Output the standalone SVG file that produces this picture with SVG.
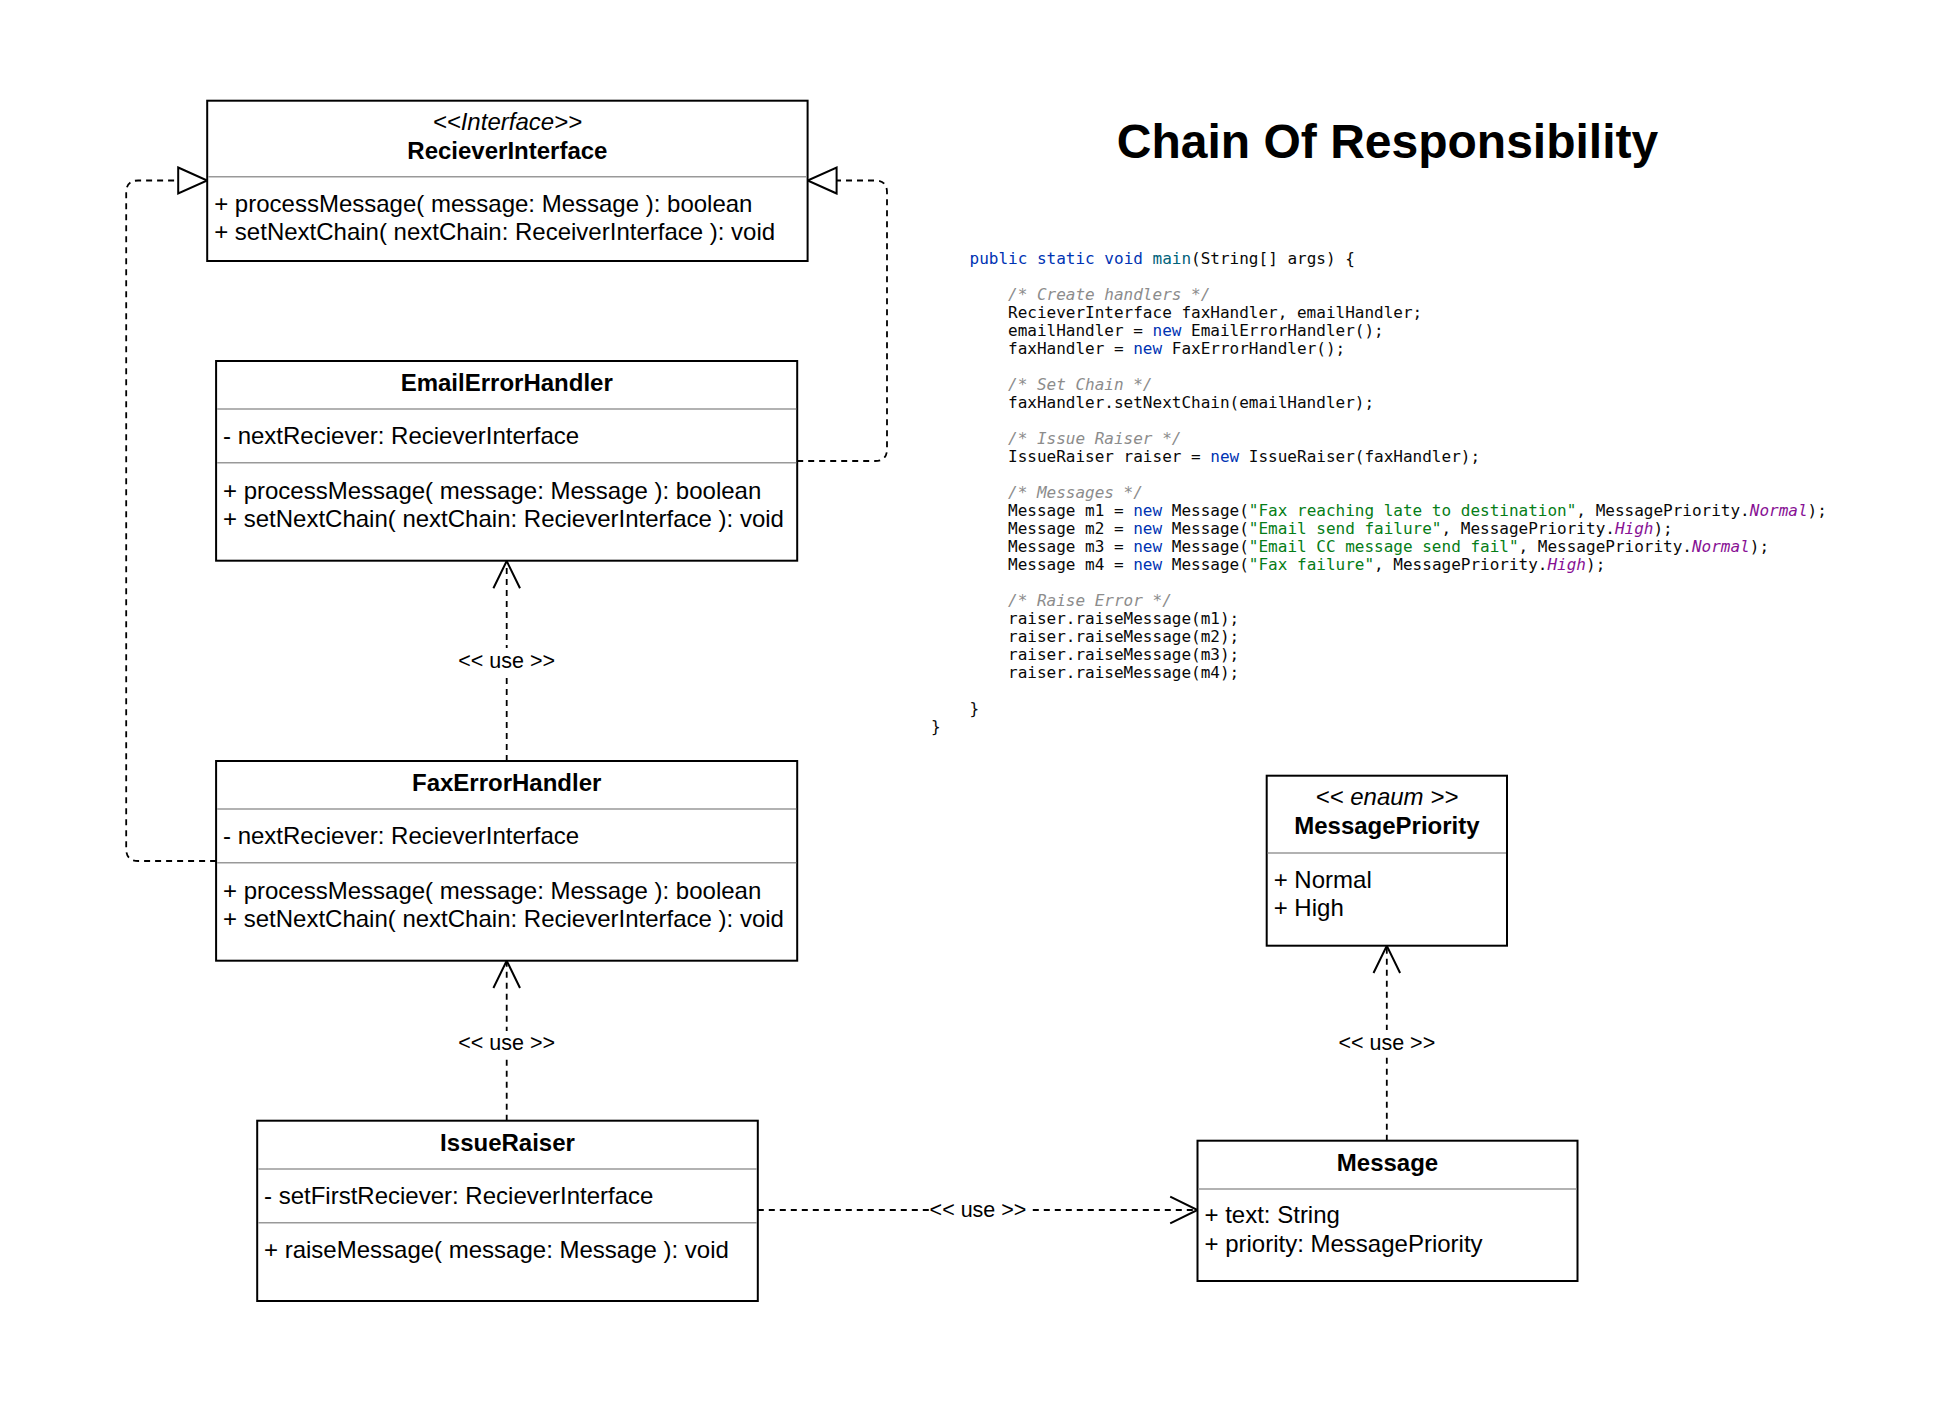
<svg xmlns="http://www.w3.org/2000/svg" width="1948" height="1402" viewBox="0 0 1948 1402">
<style>
.box{fill:#fff;stroke:#000;stroke-width:2}
.sep{stroke:#999;stroke-width:1.6}
.t{font-family:"Liberation Sans",Arial,sans-serif;font-size:24px;fill:#000}
.b{font-weight:bold;text-anchor:middle}
.i{font-style:italic;text-anchor:middle}
.lbl{font-family:"Liberation Sans",Arial,sans-serif;font-size:21.5px;fill:#000;text-anchor:middle}
.lblbg{fill:#fff}
.con{fill:none;stroke:#000;stroke-width:1.8;stroke-dasharray:6 5}
.title{font-family:"Liberation Sans",Arial,sans-serif;font-size:48px;font-weight:bold;text-anchor:middle;fill:#000}
.code{font-family:"DejaVu Sans Mono",monospace;font-size:16px;fill:#080808}
.kw{fill:#0033B3}
.fn{fill:#00627A}
.cm{fill:#8C8C8C;font-style:italic}
.st{fill:#067D17}
.en{fill:#871094;font-style:italic}
</style>
<defs>
<marker id="open" markerUnits="userSpaceOnUse" viewBox="-2 -16 32 32" markerWidth="32" markerHeight="32" refX="27.3" refY="0" orient="auto">
<path d="M0 -13.3 L27.3 0 L0 13.3" fill="none" stroke="#000" stroke-width="2"/>
</marker>
<marker id="tri" markerUnits="userSpaceOnUse" viewBox="-2 -16 34 32" markerWidth="34" markerHeight="32" refX="29" refY="0" orient="auto">
<path d="M0 -13 L29 0 L0 13 Z" fill="#fff" stroke="#000" stroke-width="2"/>
</marker>
</defs>
<rect width="1948" height="1402" fill="#fff"/>

<g id="connectors">
<path class="con" d="M216.1 861 L138.2 861 Q126.2 861 126.2 849 L126.2 192.5 Q126.2 180.5 138.2 180.5 L207.2 180.5" marker-end="url(#tri)"/>
<path class="con" d="M797.2 461 L875 461 Q887 461 887 449 L887 192.5 Q887 180.5 875 180.5 L807.6 180.5" marker-end="url(#tri)"/>
<path class="con" d="M506.7 761 L506.7 561" marker-end="url(#open)"/>
<path class="con" d="M506.7 1120.7 L506.7 960.7" marker-end="url(#open)"/>
<path class="con" d="M757.8 1210 L1197.5 1210" marker-end="url(#open)"/>
<path class="con" d="M1386.8 1140.7 L1386.8 945.7" marker-end="url(#open)"/>
<rect class="lblbg" x="457" y="648" width="100" height="26"/>
<text class="lbl" x="506.7" y="667.5">&lt;&lt; use &gt;&gt;</text>
<rect class="lblbg" x="457" y="1031" width="100" height="26"/>
<text class="lbl" x="506.7" y="1050">&lt;&lt; use &gt;&gt;</text>
<rect class="lblbg" x="1337" y="1030" width="100" height="26"/>
<text class="lbl" x="1386.8" y="1049.5">&lt;&lt; use &gt;&gt;</text>
<rect class="lblbg" x="929" y="1198" width="100" height="26"/>
<text class="lbl" x="978" y="1217">&lt;&lt; use &gt;&gt;</text>
</g>

<g id="RecieverInterface">
<rect class="box" x="207.2" y="100.7" width="600.4" height="160.3"/>
<line class="sep" x1="208.2" y1="176.7" x2="806.6" y2="176.7"/>
<text class="t i" x="507.4" y="130">&lt;&lt;Interface&gt;&gt;</text>
<text class="t b" x="507.4" y="158.5">RecieverInterface</text>
<text class="t" x="214.2" y="212">+ processMessage( message: Message ): boolean</text>
<text class="t" x="214.2" y="240">+ setNextChain( nextChain: ReceiverInterface ): void</text>
</g>

<g id="EmailErrorHandler">
<rect class="box" x="216.1" y="361" width="581.1" height="199.7"/>
<line class="sep" x1="217.1" y1="409" x2="796.2" y2="409"/>
<line class="sep" x1="217.1" y1="462.7" x2="796.2" y2="462.7"/>
<text class="t b" x="506.7" y="391">EmailErrorHandler</text>
<text class="t" x="223" y="444">- nextReciever: RecieverInterface</text>
<text class="t" x="223" y="498.5">+ processMessage( message: Message ): boolean</text>
<text class="t" x="223" y="526.5">+ setNextChain( nextChain: RecieverInterface ): void</text>
</g>

<g id="FaxErrorHandler">
<rect class="box" x="216.1" y="761" width="581.1" height="199.7"/>
<line class="sep" x1="217.1" y1="809" x2="796.2" y2="809"/>
<line class="sep" x1="217.1" y1="862.7" x2="796.2" y2="862.7"/>
<text class="t b" x="506.7" y="791">FaxErrorHandler</text>
<text class="t" x="223" y="844">- nextReciever: RecieverInterface</text>
<text class="t" x="223" y="898.5">+ processMessage( message: Message ): boolean</text>
<text class="t" x="223" y="926.5">+ setNextChain( nextChain: RecieverInterface ): void</text>
</g>

<g id="IssueRaiser">
<rect class="box" x="257.2" y="1120.7" width="500.6" height="180.3"/>
<line class="sep" x1="258.2" y1="1169" x2="756.8" y2="1169"/>
<line class="sep" x1="258.2" y1="1222.7" x2="756.8" y2="1222.7"/>
<text class="t b" x="507.5" y="1150.7">IssueRaiser</text>
<text class="t" x="264" y="1204">- setFirstReciever: RecieverInterface</text>
<text class="t" x="264" y="1258">+ raiseMessage( message: Message ): void</text>
</g>

<g id="Message">
<rect class="box" x="1197.5" y="1140.7" width="380" height="140.3"/>
<line class="sep" x1="1198.5" y1="1189" x2="1576.5" y2="1189"/>
<text class="t b" x="1387.5" y="1170.7">Message</text>
<text class="t" x="1204.5" y="1223.3">+ text: String</text>
<text class="t" x="1204.5" y="1251.5">+ priority: MessagePriority</text>
</g>

<g id="MessagePriority">
<rect class="box" x="1266.7" y="775.7" width="240.3" height="170"/>
<line class="sep" x1="1267.7" y1="853" x2="1506" y2="853"/>
<text class="t i" x="1386.9" y="805">&lt;&lt; enaum &gt;&gt;</text>
<text class="t b" x="1386.9" y="834">MessagePriority</text>
<text class="t" x="1273.7" y="888.3">+ Normal</text>
<text class="t" x="1273.7" y="916">+ High</text>
</g>

<g id="title">
<text class="title" x="1387.5" y="158">Chain Of Responsibility</text>
</g>

<g id="code">
<text class="code" x="969.5" y="263.5"><tspan class="kw">public static void</tspan> <tspan class="fn">main</tspan>(String[] args) {</text>
<text class="code cm" x="1008" y="299.5">/* Create handlers */</text>
<text class="code" x="1008" y="317.5">RecieverInterface faxHandler, emailHandler;</text>
<text class="code" x="1008" y="335.5">emailHandler = <tspan class="kw">new</tspan> EmailErrorHandler();</text>
<text class="code" x="1008" y="353.5">faxHandler = <tspan class="kw">new</tspan> FaxErrorHandler();</text>
<text class="code cm" x="1008" y="389.5">/* Set Chain */</text>
<text class="code" x="1008" y="407.5">faxHandler.setNextChain(emailHandler);</text>
<text class="code cm" x="1008" y="443.5">/* Issue Raiser */</text>
<text class="code" x="1008" y="461.5">IssueRaiser raiser = <tspan class="kw">new</tspan> IssueRaiser(faxHandler);</text>
<text class="code cm" x="1008" y="497.5">/* Messages */</text>
<text class="code" x="1008" y="515.5">Message m1 = <tspan class="kw">new</tspan> Message(<tspan class="st">"Fax reaching late to destination"</tspan>, MessagePriority.<tspan class="en">Normal</tspan>);</text>
<text class="code" x="1008" y="533.5">Message m2 = <tspan class="kw">new</tspan> Message(<tspan class="st">"Email send failure"</tspan>, MessagePriority.<tspan class="en">High</tspan>);</text>
<text class="code" x="1008" y="551.5">Message m3 = <tspan class="kw">new</tspan> Message(<tspan class="st">"Email CC message send fail"</tspan>, MessagePriority.<tspan class="en">Normal</tspan>);</text>
<text class="code" x="1008" y="569.5">Message m4 = <tspan class="kw">new</tspan> Message(<tspan class="st">"Fax failure"</tspan>, MessagePriority.<tspan class="en">High</tspan>);</text>
<text class="code cm" x="1008" y="605.5">/* Raise Error */</text>
<text class="code" x="1008" y="623.5">raiser.raiseMessage(m1);</text>
<text class="code" x="1008" y="641.5">raiser.raiseMessage(m2);</text>
<text class="code" x="1008" y="659.5">raiser.raiseMessage(m3);</text>
<text class="code" x="1008" y="677.5">raiser.raiseMessage(m4);</text>
<text class="code" x="969.5" y="713.5">}</text>
<text class="code" x="931" y="731.5">}</text>
</g>
</svg>
